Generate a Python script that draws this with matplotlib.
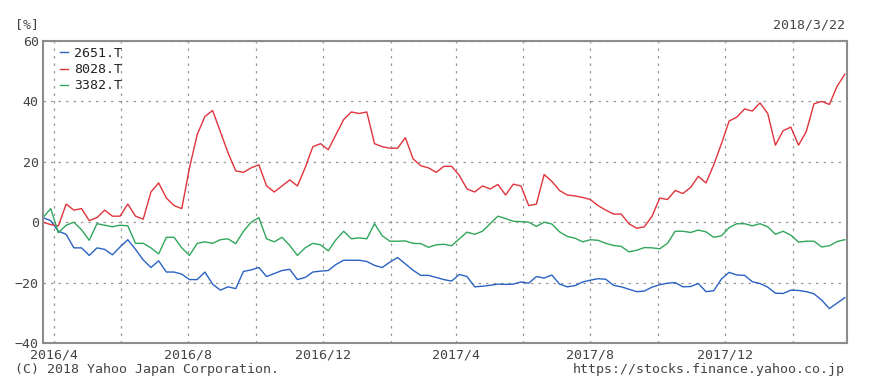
import numpy as np
import pandas as pd
import matplotlib
matplotlib.use("Agg")
import matplotlib.pyplot as plt
import matplotlib.dates as mdates
from matplotlib.ticker import FuncFormatter

# weekly closes, % change since 2016/3/22
dates = pd.date_range("2016-03-22", periods=105, freq="7D")

s2651 = [1.5, 0.5, -3, -4, -8.5, -8.5, -11, -8.5, -9, -10.8,
         -8.2, -5.8, -9, -12.5, -15, -12.8, -16.5, -16.5, -17.2, -19,
         -19, -16.5, -20.5, -22.5, -21.4, -22, -16.3, -15.8, -15, -18,
         -17, -16, -15.6, -19, -18.3, -16.5, -16.2, -16, -14, -12.6,
         -12.6, -12.6, -13, -14.3, -15, -13.2, -11.7, -13.8, -15.9, -17.6,
         -17.6, -18.3, -19, -19.5, -17.3, -18, -21.4, -21.2, -20.9, -20.5,
         -20.6, -20.5, -19.8, -20.2, -18, -18.5, -17.5, -20.5, -21.4, -21,
         -19.8, -19.2, -18.7, -18.9, -20.9, -21.4, -22.2, -23, -22.8, -21.5,
         -20.7, -20.2, -20, -21.4, -21.3, -20.3, -23, -22.7, -18.8, -16.6,
         -17.5, -17.6, -19.7, -20.3, -21.5, -23.5, -23.6, -22.5, -22.6, -23,
         -23.7, -25.8, -28.6, -26.8, -25]

s8028 = [0, -0.8, -1.2, 6, 4, 4.5, 0.5, 1.5, 4, 2,
         2, 6, 2, 1, 10, 13, 8, 5.5, 4.5, 18,
         29, 35, 37, 30, 23, 17, 16.5, 18, 19, 12,
         10, 12, 14, 12, 18, 25, 26, 24, 29, 34,
         36.5, 36, 36.5, 26, 25, 24.5, 24.5, 28, 21, 18.7,
         18, 16.5, 18.5, 18.5, 15.5, 11, 10, 12, 11, 12.5,
         9, 12.6, 12, 5.5, 6, 15.8, 13.5, 10.5, 9, 8.7,
         8.2, 7.5, 5.5, 4, 2.7, 2.7, -0.5, -2, -1.5, 2,
         8, 7.5, 10.5, 9.5, 11.5, 15.2, 13, 19, 26, 33.5,
         34.8, 37.5, 36.8, 39.5, 36, 25.5, 30.3, 31.5, 25.5, 30,
         39.2, 40, 39, 45, 49]

s3382 = [1.5, 4.5, -3.5, -1, 0, -2.5, -6, -0.5, -1, -1.5,
         -1, -1.2, -7, -7, -8.5, -10.5, -5, -5, -8.5, -11,
         -7, -6.5, -7, -5.8, -5.5, -7.1, -3, 0, 1.5, -5.5,
         -6.5, -5, -7.7, -11, -8.5, -7, -7.5, -9.5, -5.8, -3,
         -5.5, -5.2, -5.5, -0.5, -4.5, -6.3, -6.3, -6.2, -7, -7.1,
         -8.3, -7.5, -7.3, -7.8, -5.5, -3.3, -4, -3, -0.5, 2,
         1.2, 0.3, 0.2, 0, -1.4, 0, -0.6, -3.2, -4.7, -5.3,
         -6.5, -5.8, -6, -7, -7.7, -8, -9.8, -9.3, -8.4, -8.5,
         -8.8, -7, -3, -3, -3.4, -2.6, -3.2, -5, -4.5, -1.8,
         -0.5, -0.5, -1.2, -0.5, -1.5, -4, -3, -4.3, -6.6, -6.3,
         -6.3, -8.2, -7.8, -6.4, -5.8]

codes = ["2651.T", "8028.T", "3382.T"]
colors = ["#2a62c4", "#e0343c", "#2fa65c"]
series = [s2651, s8028, s3382]

mono = "DejaVu Sans Mono"
txt = "#444444"

fig = plt.figure(figsize=(8.7, 3.89), dpi=100)
ax = fig.add_axes([43 / 870, 46 / 389, 804 / 870, 302 / 389])

for code, col, vals in zip(codes, colors, series):
    ax.plot(dates, vals, color=col, lw=1.0, label=code)

ax.set_xlim(pd.Timestamp("2016-03-22"), pd.Timestamp("2018-03-22"))
ax.set_ylim(-40, 60)
ax.set_yticks([-40, -20, 0, 20, 40, 60])

ax.xaxis.set_major_locator(mdates.MonthLocator(bymonth=[4, 8, 12]))
ax.xaxis.set_minor_locator(mdates.MonthLocator(bymonth=[2, 6, 10]))
ax.xaxis.set_major_formatter(
    FuncFormatter(lambda v, p: "%d/%d" % (mdates.num2date(v).year, mdates.num2date(v).month)))

ax.grid(True, which="both", color="#999999", ls=(0, (2, 4)), lw=0.9)
ax.tick_params(axis="y", length=0, labelsize=9.5, labelcolor=txt, pad=3)
ax.tick_params(axis="x", which="both", length=0, labelsize=9.5, labelcolor=txt, pad=4)
for lab in ax.get_xticklabels() + ax.get_yticklabels():
    lab.set_family(mono)
for sp in ax.spines.values():
    sp.set_color("#8c8c8c")
    sp.set_linewidth(1.5)

leg = ax.legend(loc="upper left", bbox_to_anchor=(0.006, 1.02), frameon=False,
                handlelength=0.6, handletextpad=0.5, labelspacing=0.25,
                prop={"family": mono, "size": 9.5})
for t in leg.get_texts():
    t.set_color("#222222")

fig.text(15 / 870, 1 - 25 / 389, "[%]", family=mono, fontsize=9.5,
         color=txt, va="center", ha="left")
fig.text(845 / 870, 1 - 25 / 389, "2018/3/22", family=mono, fontsize=9.5,
         color=txt, va="center", ha="right")
fig.text(15 / 870, 1 - 370 / 389, "(C) 2018 Yahoo Japan Corporation.",
         family=mono, fontsize=9.5, color=txt, va="center", ha="left")
fig.text(845 / 870, 1 - 370 / 389, "https://stocks.finance.yahoo.co.jp",
         family=mono, fontsize=9.5, color=txt, va="center", ha="right")

fig.savefig("out.png", dpi=100)
